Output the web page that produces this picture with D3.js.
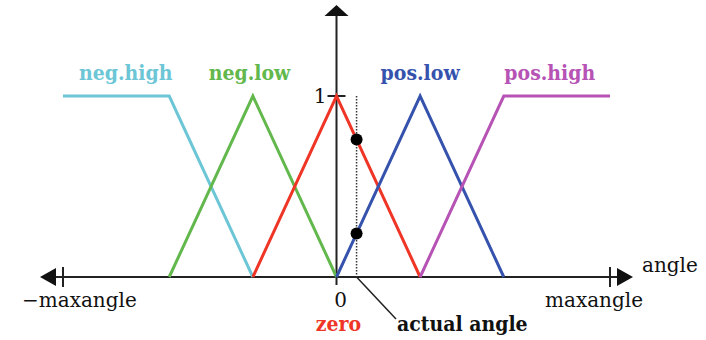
<!DOCTYPE html>
<html><head><meta charset="utf-8">
<script src="https://cdn.jsdelivr.net/npm/d3@7"></script>
<style>body{margin:0;background:#fff}svg{display:block}</style>
</head><body><svg id="c" width="706" height="340"></svg>
<script>
// data (angle in arbitrary units; breakpoints at ±1, ±2, maxangle ≈ 3.27)
const maxAngle = 3.27;
const setNames = ["neg.high", "neg.low", "zero", "pos.low", "pos.high"];
const negHigh = [[-3.27, 1], [-2, 1], [-1, 0]];
const negLow = [[-2, 0], [-1, 1], [0, 0]];
const zeroSet = [[-1, 0], [0, 1], [1, 0]];
const posLow = [[0, 0], [1, 1], [2, 0]];
const posHigh = [[1, 0], [2, 1], [3.27, 1]];
const labelX = [-2.52, -1.04, 0, 1.0, 2.55];
const actualAngle = 0.24;
const xTickLabels = ["\u2212maxangle", "0", "maxangle"];
const yTickLabels = ["1"];

const colors = ["#6cc6d6", "#62b84c", "#ee3526", "#3552ad", "#b653b4"];
const series = [negHigh, negLow, zeroSet, posLow, posHigh];

const svg = d3.select("#c");
const x = d3.scaleLinear().domain([-maxAngle, maxAngle]).range([63, 610]);
const y = d3.scaleLinear().domain([0, 1]).range([277, 96]);
const font = "'DejaVu Serif', serif";
const bfont = "'DejaVu Serif Condensed', 'DejaVu Serif', serif";

// x axis
svg.append("line").attr("x1", 44).attr("x2", 624).attr("y1", y(0)).attr("y2", y(0))
  .attr("stroke", "#222").attr("stroke-width", 2);
svg.append("path").attr("d", `M40,${y(0)} L56,${y(0)-9} L56,${y(0)+9} Z`).attr("fill", "#111");
svg.append("path").attr("d", `M633,${y(0)} L617,${y(0)-9} L617,${y(0)+9} Z`).attr("fill", "#111");
[-maxAngle, maxAngle].forEach(v => {
  svg.append("line").attr("x1", x(v)).attr("x2", x(v)).attr("y1", y(0)-10).attr("y2", y(0)+10)
    .attr("stroke", "#222").attr("stroke-width", 2);
});
svg.append("line").attr("x1", x(0)).attr("x2", x(0)).attr("y1", y(0)).attr("y2", y(0)+8)
  .attr("stroke", "#222").attr("stroke-width", 2);

// y axis
svg.append("line").attr("x1", x(0)).attr("x2", x(0)).attr("y1", y(0)).attr("y2", 14)
  .attr("stroke", "#222").attr("stroke-width", 2);
svg.append("path").attr("d", `M${x(0)},5 L${x(0)-12},16 L${x(0)+12},16 Z`).attr("fill", "#111");
svg.append("line").attr("x1", x(0)-9).attr("x2", x(0)+9).attr("y1", y(1)).attr("y2", y(1))
  .attr("stroke", "#222").attr("stroke-width", 2);
svg.append("text").attr("x", x(0)-10).attr("y", y(1)+7).attr("text-anchor", "end")
  .attr("font-family", font).attr("font-size", 20).attr("fill", "#111").text(yTickLabels[0]);

// membership functions
const line = d3.line().x(d => x(d[0])).y(d => y(d[1]));
series.forEach((s, i) => {
  svg.append("path").attr("d", line(s)).attr("fill", "none")
    .attr("stroke", colors[i]).attr("stroke-width", 3).attr("stroke-linejoin", "miter");
});

// set labels
setNames.forEach((n, i) => {
  if (i === 2) return;
  svg.append("text").attr("x", x(labelX[i])).attr("y", 80).attr("text-anchor", "middle")
    .attr("font-family", bfont).attr("font-weight", "bold").attr("font-size", 21)
    .attr("fill", colors[i]).text(n);
});
svg.append("text").attr("x", x(labelX[2])+2).attr("y", 331).attr("text-anchor", "middle")
  .attr("font-family", bfont).attr("font-weight", "bold").attr("font-size", 21)
  .attr("fill", colors[2]).text(setNames[2]);

// actual angle
svg.append("line").attr("x1", x(actualAngle)).attr("x2", x(actualAngle)).attr("y1", y(1)).attr("y2", y(0))
  .attr("stroke", "#333").attr("stroke-width", 1.5).attr("stroke-dasharray", "1.5,1.5");
const memberships = [zeroSet, posLow].map(s => {
  for (let k = 0; k < s.length - 1; k++) {
    const [a, b] = [s[k], s[k+1]];
    if (actualAngle >= a[0] && actualAngle <= b[0]) return a[1] + (b[1]-a[1])*(actualAngle-a[0])/(b[0]-a[0]);
  }
  return 0;
});
memberships.forEach(m => {
  svg.append("circle").attr("cx", x(actualAngle)).attr("cy", y(m)).attr("r", 6).attr("fill", "#000");
});
svg.append("line").attr("x1", x(actualAngle)).attr("y1", y(0)).attr("x2", 396).attr("y2", 319)
  .attr("stroke", "#222").attr("stroke-width", 1.5);
svg.append("text").attr("x", 397).attr("y", 331)
  .attr("font-family", bfont).attr("font-weight", "bold").attr("font-size", 21)
  .attr("fill", "#111").text("actual angle");

// tick labels
svg.append("text").attr("x", 22).attr("y", 307).attr("font-family", font).attr("font-size", 20)
  .attr("fill", "#111").text(xTickLabels[0]);
svg.append("text").attr("x", x(0)+4).attr("y", 307).attr("text-anchor", "middle").attr("font-family", font)
  .attr("font-size", 20).attr("fill", "#111").text(xTickLabels[1]);
svg.append("text").attr("x", 545).attr("y", 307).attr("font-family", font).attr("font-size", 20)
  .attr("fill", "#111").text(xTickLabels[2]);
svg.append("text").attr("x", 642).attr("y", 272).attr("font-family", font).attr("font-size", 20)
  .attr("fill", "#111").text("angle");
</script></body></html>
